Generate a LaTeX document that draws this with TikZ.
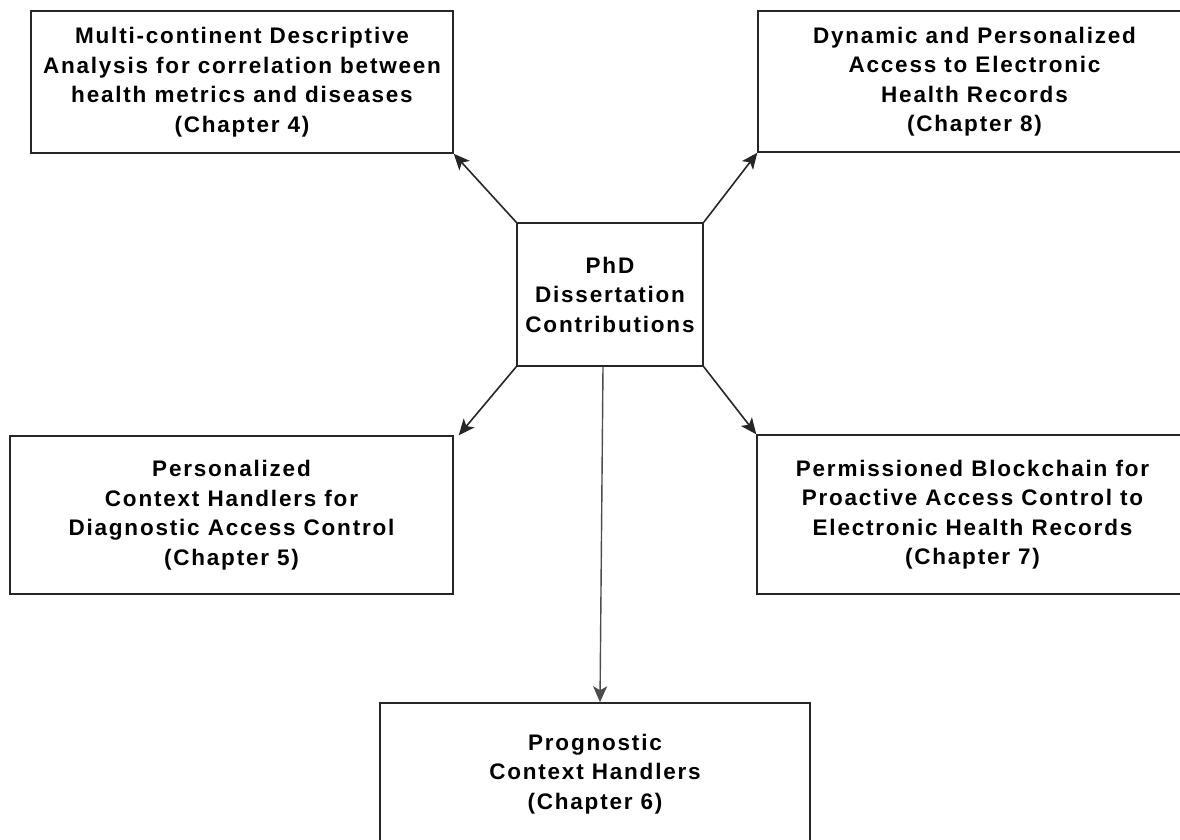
\documentclass[tikz,border=0pt]{standalone}
\usepackage{fontspec}
\setmainfont{Liberation Sans}[LetterSpace=8]
\usetikzlibrary{arrows.meta}

\tikzset{
  box/.style={draw=black!85, line width=1.5pt, fill=white, inner sep=0pt,
              align=center, text=black,
              font=\fontsize{22.5}{29.5}\selectfont\bfseries},
  arr/.style={draw=black!85, line width=1.6pt,
              -{Stealth[length=16pt,width=14pt,inset=4pt]}},
  stem/.style={draw=black!70, line width=1.4pt,
              -{Stealth[length=16pt,width=14pt,inset=4pt]}}
}

\begin{document}
\begin{tikzpicture}[x=1pt,y=-1pt]
  \useasboundingbox (0,0) rectangle (1180,840);

  % central contribution box
  \node[box, minimum width=186pt, minimum height=143pt] (c) at (610,294.5)
    {PhD\\Dissertation\\Contributions};

  % chapter boxes
  \node[box, minimum width=422pt, minimum height=142pt] (tl) at (242,82)
    {Multi-continent Descriptive\\Analysis for correlation between\\health metrics and diseases\\(Chapter 4)};
  \node[box, minimum width=433pt, minimum height=141pt] (tr) at (974.5,81.5)
    {Dynamic and Personalized\\Access to Electronic\\Health Records\\(Chapter 8)};
  \node[box, minimum width=443pt, minimum height=158pt] (bl) at (231.5,515)
    {Personalized\\Context Handlers for\\Diagnostic Access Control\\(Chapter 5)};
  \node[box, minimum width=431pt, minimum height=159pt] (br) at (972.5,514.5)
    {Permissioned Blockchain for\\Proactive Access Control to\\Electronic Health Records\\(Chapter 7)};
  \node[box, minimum width=430pt, minimum height=142pt] (bot) at (595,774)
    {Prognostic\\Context Handlers\\(Chapter 6)};

  % connectors
  \draw[arr] (c.north west) -- (tl.south east);
  \draw[arr] (c.north east) -- (tr.south west);
  \draw[arr] (c.south west) -- ([xshift=5pt]bl.north east);
  \draw[arr] (c.south east) -- (br.north west);
  \draw[stem] ([xshift=-7pt]c.south) -- ([xshift=5pt]bot.north);
\end{tikzpicture}
\end{document}
